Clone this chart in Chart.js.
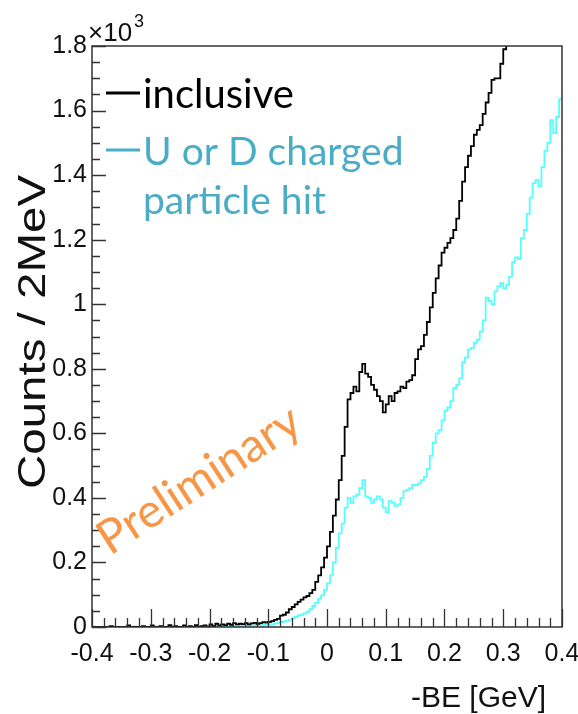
<!DOCTYPE html>
<html>
<head>
<meta charset="utf-8">
<script src="https://cdn.jsdelivr.net/npm/chart.js@4"></script>
<style>
  html, body { margin: 0; padding: 0; background: #fff; }
  #wrap { width: 578px; height: 714px; }
</style>
</head>
<body>
<div id="wrap"><canvas id="myChart" width="578" height="714"></canvas></div>
<script>
// 5 MeV bins from -0.4 to 0.4 GeV
const xMin = -0.4
const xMax = 0.4
const binWidth = 0.005

// inclusive (black)
const inclusive = [
    0, 0, 0, 0, 0, 0, 3, 0, 0, 0,   0, 0, 5, 0, 0, 0, 0, 3, 0, 0,
    5, 0, 0, 3, 0, 0, 6, 0, 3, 0,   0, 5, 0, 3, 0, 6, 0, 3, 5, 0,
    8, 3, 10, 5, 8, 6, 10, 7, 12, 8,   10, 9, 12, 8, 11, 13, 10, 12, 15, 14,
    16, 18, 22, 25, 35, 38, 45, 55, 62, 70,   78, 85, 92, 96, 105, 115, 140, 160, 185, 215,
    250, 295, 345, 395, 455, 530, 620, 705, 725, 745,   730, 790, 815, 785, 775, 750, 735, 715, 700, 665,
    690, 715, 700, 725, 730, 745, 740, 760, 765, 780,   830, 860, 870, 905, 945, 990, 1035, 1080, 1120, 1160,
    1175, 1190, 1205, 1230, 1265, 1320, 1380, 1425, 1460, 1490,   1525, 1540, 1555, 1590, 1625, 1655, 1695, 1700, 1700, 1745,
    1790, 1815, 1840, 1870, 1895, 1925, 1950, 1985, 2010, 2040,   2070, 2100, 2130, 2160, 2190, 2220, 2250, 2280, 2310, 2340,
]

// U or D charged particle hit (cyan)
const charged = [
    2, 0, 0, 0, 1, 0, 0, 2, 0, 0,   0, 1, 0, 0, 2, 0, 0, 0, 1, 0,
    0, 2, 0, 0, 1, 0, 0, 2, 0, 1,   0, 0, 2, 1, 0, 0, 3, 0, 1, 2,
    2, 1, 3, 2, 1, 3, 2, 4, 3, 2,   4, 3, 5, 4, 3, 5, 6, 5, 7, 6,
    8, 9, 11, 13, 15, 17, 20, 22, 27, 31,   36, 38, 42, 47, 55, 65, 75, 88, 98, 115,
    135, 160, 200, 245, 290, 320, 370, 400, 385, 405,   410, 430, 455, 405, 400, 385, 395, 405, 395, 370,
    355, 390, 385, 375, 380, 400, 420, 425, 430, 440,   440, 445, 455, 465, 490, 530, 570, 600, 610, 640,
    670, 680, 700, 740, 750, 770, 820, 835, 860, 865,   880, 890, 915, 950, 1020, 1010, 1000, 1040, 1055, 1065,
    1050, 1060, 1085, 1130, 1145, 1140, 1205, 1230, 1280, 1330,   1375, 1385, 1365, 1425, 1475, 1500, 1570, 1530, 1580, 1635,
]

const xTicks = [-0.4, -0.3, -0.2, -0.1, 0, 0.1, 0.2, 0.3, 0.4]
const yTicks = [0, 200, 400, 600, 800, 1000, 1200, 1400, 1600, 1800]

// histogram points at bin low edges, plus closing edge
function toSteps(counts) {
    const pts = counts.map((c, i) => ({ x: xMin + i * binWidth, y: c }))
    pts.push({ x: xMax, y: counts[counts.length - 1] })
    return pts
}

const ctx = document.getElementById('myChart').getContext('2d')

const rootFont = '"Liberation Sans", Arial, sans-serif'

// ROOT style frame, inward ticks and annotations
const decorations = {
    id: 'decorations',
    afterDraw(chart) {
        const c = chart.ctx
        const a = chart.chartArea
        const xs = chart.scales.x
        const ys = chart.scales.y
        c.save()
        c.strokeStyle = '#333'
        c.lineWidth = 1.5
        c.strokeRect(a.left, a.top, a.right - a.left, a.bottom - a.top)

        // x ticks, every 0.02, long every 0.1
        c.lineWidth = 1.3
        c.beginPath()
        for (let k = 0; k <= 40; k++) {
            const v = xMin + k * 0.02
            const px = Math.round(xs.getPixelForValue(v)) + 0.5
            const len = k % 5 === 0 ? 18 : 9
            c.moveTo(px, a.bottom)
            c.lineTo(px, a.bottom - len)
        }
        // y ticks, every 50, long every 200
        for (let k = 0; k <= 36; k++) {
            const v = k * 50
            const py = Math.round(ys.getPixelForValue(v)) + 0.5
            const len = k % 4 === 0 ? 14 : 8
            c.moveTo(a.left, py)
            c.lineTo(a.left + len, py)
        }
        c.stroke()

        // exponent
        c.fillStyle = '#111'
        c.textBaseline = 'alphabetic'
        c.textAlign = 'left'
        c.font = '26px ' + rootFont
        c.fillText('\u00d710', 88, 41)
        c.font = '18px ' + rootFont
        c.fillText('3', 134, 27)

        // axis titles
        c.font = '30px ' + rootFont
        c.textAlign = 'right'
        c.fillText('-BE [GeV]', 546, 707)
        c.save()
        c.translate(45, 332)
        c.rotate(-Math.PI / 2)
        c.scale(1.25, 1)
        c.textAlign = 'center'
        c.font = '38px ' + rootFont
        c.fillText('Counts / 2MeV', 0, 0)
        c.restore()

        // legend
        c.lineWidth = 3
        c.strokeStyle = '#000'
        c.beginPath()
        c.moveTo(106, 93)
        c.lineTo(140, 93)
        c.stroke()
        c.strokeStyle = '#4bacc6'
        c.beginPath()
        c.moveTo(106, 150)
        c.lineTo(140, 150)
        c.stroke()
        c.textAlign = 'left'
        c.font = '40px Lato, sans-serif'
        c.fillStyle = '#000'
        c.fillText('inclusive', 143, 108)
        c.fillStyle = '#4bacc6'
        c.font = '39px Lato, sans-serif'
        c.fillText('U or D charged', 143, 165)
        c.fillText('particle hit', 143, 214)

        // watermark
        c.save()
        c.translate(110, 556)
        c.rotate(-33 * Math.PI / 180)
        c.fillStyle = '#f79646'
        c.font = '47px Lato, sans-serif'
        c.fillText('Preliminary', 0, 0)
        c.restore()

        c.restore()
    },
}

const data = {
    datasets: [
    {
        label: 'inclusive',
        data: toSteps(inclusive),
        borderColor: '#000',
        borderWidth: 1.8,
        stepped: 'before',
        pointRadius: 0,
        fill: false,
    },
    {
        label: 'U or D charged particle hit',
        data: toSteps(charged),
        borderColor: '#55ffff',
        borderWidth: 1.8,
        stepped: 'before',
        pointRadius: 0,
        fill: false,
    },
],
}

const config = {
    type: 'line',
    data: data,
    plugins: [decorations],
    options: {
        responsive: false,
        animation: false,
        layout: { padding: { top: 46, right: 16, left: 0, bottom: 0 } },
        plugins: {
            legend: { display: false },
            tooltip: { enabled: false },
        },
        scales: {
            x: {
                type: 'linear',
                min: xMin,
                max: xMax,
                afterFit: (scale) => {
                    scale.height = 87
                    scale.paddingLeft = 0
                    scale.paddingRight = 0
                },
                afterBuildTicks: (scale) => { scale.ticks = xTicks.map(v => ({ value: v })) },
                grid: { display: false, drawTicks: false },
                border: { display: false },
                ticks: {
                    padding: 12,
                    color: '#111',
                    font: { family: rootFont, size: 25 },
                    maxRotation: 0,
                    callback: function (value) {
                        if (Math.abs(value) < 1e-9) return '0'
                        return value.toFixed(1)
                    },
                },
            },
            y: {
                min: 0,
                max: 1800,
                afterFit: (scale) => {
                    scale.width = 92
                    scale.paddingTop = 0
                    scale.paddingBottom = 0
                },
                afterBuildTicks: (scale) => { scale.ticks = yTicks.map(v => ({ value: v })) },
                grid: { display: false, drawTicks: false },
                border: { display: false },
                ticks: {
                    padding: 5,
                    color: '#111',
                    font: { family: rootFont, size: 25 },
                    callback: function (value) {
                        return String(value / 1000)
                    },
                },
            },
        },
    },
}

const myChart = new Chart(ctx, config)
</script>
</body>
</html>
